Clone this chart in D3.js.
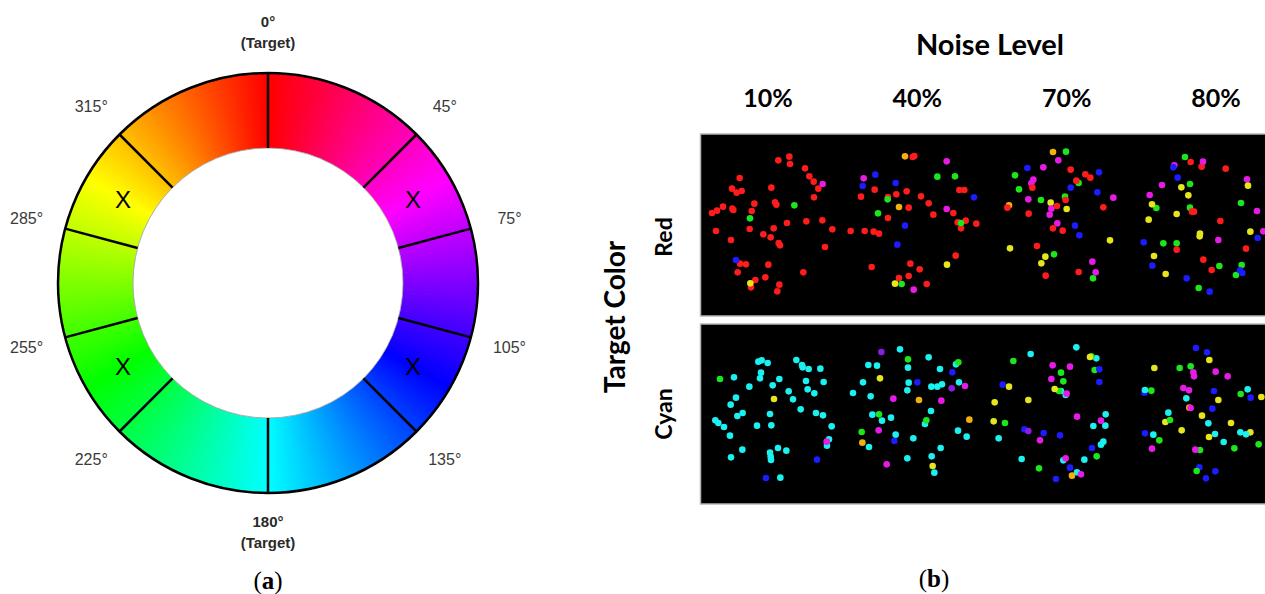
<!DOCTYPE html>
<html>
<head>
<meta charset="utf-8">
<script src="https://cdn.jsdelivr.net/npm/d3@7"></script>
<style>
  body { margin: 0; background: #fff; }
  svg { display: block; }
</style>
</head>
<body>
<svg width="1265" height="594"></svg>
<script>
// ---- panel (a) data ----
var ringBounds = [0, 45, 75, 105, 135, 180, 225, 255, 285, 315];
var sideAngles = [45, 75, 105, 135, 225, 255, 285, 315];
var sideLabels = ["45°", "75°", "105°", "135°", "225°", "255°", "285°", "315°"];
var targetAngles = [0, 180];
var targetLabels = ["0°", "180°"];
var distractorAngles = [60, 120, 240, 300];

// ---- panel (b) data ----
var noiseLevels = ["10%", "40%", "70%", "80%"];
var targetColors = ["Red", "Cyan"];

// dot positions in stimulus units, colour code last
var red10 = [[235,82,"r"],[268,71,"r"],[270,93,"r"],[315,106,"r"],[328,130,"r"],[341,146,"r"],[355,167,"r"],[342,193,"r"],
  [119,135,"r"],[96,167,"r"],[110,179,"r"],[125,174,"r"],[214,164,"r"],[163,212,"r"],[155,234,"r"],[225,208,"r"],[229,215,"r"],
  [69,221,"r"],[51,233,"r"],[36,240,"r"],[97,227,"r"],[100,231,"r"],[48,294,"r"],[93,321,"r"],[149,288,"r"],[190,304,"r"],
  [212,313,"r"],[221,286,"r"],[261,270,"r"],[319,265,"r"],[367,262,"r"],[397,289,"r"],[375,342,"r"],[236,330,"r"],[240,337,"r"],
  [205,395,"r"],[138,394,"r"],[120,392,"r"],[113,418,"r"],[166,441,"r"],[196,433,"r"],[153,463,"r"],[238,455,"r"],[232,475,"r"],
  [310,418,"r"],[283,217,"g"],[150,256,"g"],[368,153,"m"],[108,381,"b"],[151,451,"y"]];
var red40 = [[452,294,"r"],[494,294,"r"],[521,296,"r"],[537,302,"r"],[483,191,"r"],[524,170,"r"],[564,192,"r"],[589,184,"r"],
  [620,175,"r"],[663,190,"r"],[686,211,"r"],[626,224,"r"],[564,255,"r"],[700,245,"r"],[760,240,"r"],[773,268,"r"],[797,263,"r"],
  [783,286,"r"],[829,272,"r"],[778,171,"r"],[793,171,"r"],[638,72,"r"],[643,69,"r"],[515,402,"r"],[631,392,"r"],[659,409,"r"],
  [626,429,"r"],[597,435,"r"],[680,453,"r"],[767,368,"r"],
  [563,199,"g"],[534,241,"g"],[712,131,"g"],[765,130,"g"],[783,270,"g"],[605,453,"g"],
  [526,125,"b"],[488,159,"b"],[587,150,"b"],[822,193,"b"],[615,278,"b"],[592,335,"b"],
  [491,136,"m"],[740,85,"m"],[740,228,"m"],[641,470,"m"],
  [615,70,"o"],[597,222,"o"],[741,395,"y"],[585,452,"y"]];
var red70 = [[219,57,"o"],[212,209,"y"],[260,228,"y"],[90,346,"y"],[196,371,"y"],[184,391,"y"],[390,322,"y"],[87,217,"o"],
  [258,56,"g"],[105,127,"g"],[117,169,"g"],[183,201,"g"],[255,191,"g"],[296,150,"g"],[222,364,"g"],[339,436,"g"],
  [235,82,"m"],[190,103,"m"],[160,140,"m"],[154,151,"m"],[145,199,"m"],[214,227,"m"],[209,245,"m"],[232,271,"m"],[400,194,"m"],
  [337,386,"m"],[347,418,"m"],
  [272,110,"r"],[316,124,"r"],[331,134,"r"],[289,143,"r"],[157,164,"r"],[82,224,"r"],[146,242,"r"],[231,219,"r"],[257,201,"r"],
  [219,286,"r"],[248,293,"r"],[370,223,"r"],[171,339,"r"],[197,428,"r"],[296,417,"r"],
  [142,105,"b"],[357,118,"b"],[272,164,"b"],[352,178,"b"],[285,278,"b"],[298,307,"b"]];
var red80 = [[615,72,"g"],[630,153,"g"],[529,225,"g"],[630,224,"g"],[783,210,"g"],[550,331,"g"],[590,331,"g"],[718,399,"g"],
  [785,396,"g"],[768,426,"g"],[656,465,"g"],
  [632,87,"r"],[665,101,"r"],[737,107,"r"],[636,236,"r"],[642,236,"r"],[721,264,"r"],[590,350,"r"],[798,347,"r"],[670,380,"r"],[695,411,"r"],
  [583,97,"m"],[669,86,"m"],[546,156,"m"],[509,186,"m"],[801,139,"m"],[831,234,"m"],[850,295,"m"],[715,321,"m"],
  [580,103,"b"],[593,134,"b"],[491,328,"b"],[517,398,"b"],[620,436,"b"],[689,476,"b"],[833,315,"b"],[780,412,"b"],[787,420,"b"],
  [604,163,"y"],[625,187,"y"],[516,214,"y"],[590,243,"y"],[506,260,"y"],[660,302,"y"],[659,310,"y"],[522,369,"y"],[557,423,"y"],
  [804,158,"y"],[811,296,"y"]];
var cyan10 = [[175,140,"c"],[185,136,"c"],[203,144,"c"],[183,173,"c"],[180,190,"c"],[102,187,"c"],[148,215,"c"],[218,211,"c"],
  [238,192,"c"],[108,248,"c"],[92,269,"c"],[128,294,"c"],[112,303,"c"],[46,316,"c"],[55,324,"c"],[72,336,"c"],[90,362,"c"],
  [93,427,"c"],[127,404,"c"],[171,332,"c"],[210,297,"c"],[214,331,"c"],[210,413,"c"],[212,425,"c"],[213,435,"c"],[234,399,"c"],
  [259,407,"c"],[241,488,"c"],[266,229,"c"],[279,253,"c"],[302,283,"c"],[289,135,"c"],[306,150,"c"],[308,157,"c"],[326,162,"c"],
  [361,161,"c"],[318,198,"c"],[323,223,"c"],[343,235,"c"],[371,201,"c"],[348,294,"c"],[369,301,"c"],[395,334,"c"],[387,373,"c"],
  [381,392,"c"],[60,192,"g"],[222,252,"y"],[380,380,"m"],[351,434,"b"],[198,489,"b"]];
var cyan40 = [[600,103,"c"],[505,150,"c"],[531,152,"c"],[624,158,"c"],[686,127,"c"],[720,162,"c"],[768,148,"c"],[489,202,"c"],
  [459,234,"c"],[512,244,"c"],[626,203,"c"],[622,226,"c"],[694,215,"c"],[712,215,"c"],[726,208,"c"],[777,202,"c"],[517,299,"c"],
  [546,317,"c"],[573,308,"c"],[693,288,"c"],[675,327,"c"],[587,359,"c"],[640,370,"c"],[507,396,"c"],[622,430,"c"],[695,424,"c"],
  [722,399,"c"],[774,347,"c"],[800,365,"c"],[703,473,"c"],
  [624,133,"g"],[775,142,"g"],[537,298,"g"],[679,316,"g"],[485,351,"g"],
  [544,111,"p"],[652,202,"b"],[757,172,"b"],[755,220,"p"],[583,378,"b"],
  [795,213,"m"],[580,251,"m"],[724,257,"m"],[536,346,"m"],[560,448,"m"],
  [540,190,"y"],[657,255,"o"],[808,314,"o"],[487,383,"o"],[698,453,"y"]];
var cyan70 = [[289,97,"c"],[152,117,"c"],[349,130,"c"],[243,228,"c"],[257,240,"c"],[377,298,"c"],[340,333,"c"],[376,332,"c"],
  [56,370,"c"],[363,389,"c"],[370,380,"c"],[125,432,"c"],[250,436,"c"],[313,434,"c"],[291,472,"c"],
  [100,138,"g"],[334,124,"g"],[243,173,"g"],[250,199,"g"],[344,165,"g"],[237,228,"g"],[75,324,"g"],[350,424,"g"],[177,460,"g"],
  [330,126,"y"],[87,215,"y"],[145,255,"y"],[44,262,"y"],[224,222,"y"],[41,319,"y"],[276,482,"o"],
  [218,151,"m"],[270,155,"m"],[214,192,"m"],[260,236,"m"],[291,305,"m"],[363,317,"m"],[180,376,"m"],[257,430,"m"],[303,478,"m"],
  [358,163,"b"],[358,201,"b"],[68,209,"b"],[133,343,"b"],[145,348,"p"],[191,354,"b"],[240,361,"b"],[336,399,"b"],[270,458,"b"],[228,492,"b"]];
var cyan80 = [[648,99,"b"],[681,112,"b"],[493,233,"b"],[702,228,"b"],[697,281,"b"],[812,248,"b"],[495,355,"b"],[658,457,"b"],
  [706,469,"b"],[678,490,"b"],
  [688,135,"y"],[523,159,"y"],[715,255,"y"],[628,278,"o"],[666,302,"y"],[556,321,"y"],[605,346,"y"],[753,324,"y"],[687,366,"y"],
  [811,352,"y"],[844,246,"y"],
  [599,159,"g"],[632,154,"g"],[514,227,"g"],[570,315,"g"],[782,237,"g"],[538,376,"g"],[763,400,"g"],[660,405,"g"],[836,388,"g"],[650,468,"g"],
  [640,172,"m"],[642,184,"m"],[707,170,"m"],[743,184,"m"],[610,219,"m"],[627,226,"m"],[632,279,"m"],[516,401,"m"],[646,404,"m"],
  [495,225,"c"],[803,223,"c"],[619,250,"c"],[565,293,"c"],[685,325,"c"],[520,359,"c"],[705,357,"c"],[731,381,"c"],[781,352,"c"],[798,358,"c"]];

var cells = [
  [red10, red40, red70, red80],
  [cyan10, cyan40, cyan70, cyan80]
];

var dotColor = { r: "#ff1a1a", g: "#1ae61a", b: "#1a1aff", m: "#e61ae6", y: "#e6e61a", o: "#f2b010", c: "#1af0f0", p: "#8a1ae6" };

var svg = d3.select("svg");

// ================= (a) colour wheel =================
var cx = 268, cy = 283, rOut = 210, rIn = 135;
var wheel = svg.append("g").attr("transform", "translate(" + cx + "," + cy + ")");

var rad = d3.scaleLinear().domain([0, 360]).range([0, 2 * Math.PI]);
var hue = d3.scaleLinear().domain([0, 360]).range([360, 0]);

var arc = d3.arc().innerRadius(rIn).outerRadius(rOut);

wheel.selectAll("path.slice")
  .data(d3.range(0, 360, 0.5))
  .enter().append("path")
    .attr("class", "slice")
    .attr("d", function(d) { return arc({ startAngle: rad(d), endAngle: rad(d + 0.8) }); })
    .attr("fill", function(d) { return d3.hsl(hue(d + 0.25) % 360, 1, 0.5).formatHex(); });

// outer and inner edges
wheel.append("circle").attr("r", rOut).attr("fill", "none").attr("stroke", "#000").attr("stroke-width", 2.5);
wheel.append("circle").attr("r", rIn).attr("fill", "#fff").attr("stroke", "#999").attr("stroke-width", 0.8);

// segment borders
wheel.selectAll("line.bound")
  .data(ringBounds)
  .enter().append("line")
    .attr("class", "bound")
    .attr("x1", function(d) { return rIn * Math.sin(rad(d)); })
    .attr("y1", function(d) { return -rIn * Math.cos(rad(d)); })
    .attr("x2", function(d) { return rOut * Math.sin(rad(d)); })
    .attr("y2", function(d) { return -rOut * Math.cos(rad(d)); })
    .attr("stroke", "#000")
    .attr("stroke-width", 2.5);

// X marks on distractor segments
var rMid = (rIn + rOut) / 2 - 5;
wheel.selectAll("text.x")
  .data(distractorAngles)
  .enter().append("text")
    .attr("class", "x")
    .attr("x", function(d) { return rMid * Math.sin(rad(d)); })
    .attr("y", function(d) { return -rMid * Math.cos(rad(d)); })
    .attr("dy", "0.36em")
    .attr("text-anchor", "middle")
    .style("font", "24px 'Liberation Sans', Arial, sans-serif")
    .attr("fill", "#000")
    .text("X");

// side labels
var rLab = 250;
wheel.selectAll("text.lab")
  .data(sideAngles)
  .enter().append("text")
    .attr("class", "lab")
    .attr("x", function(d) { return rLab * Math.sin(rad(d)); })
    .attr("y", function(d) { return -rLab * Math.cos(rad(d)); })
    .attr("dy", "0.35em")
    .attr("text-anchor", "middle")
    .style("font", "16px 'Liberation Sans', Arial, sans-serif")
    .attr("fill", "#3a3a3a")
    .text(function(d, i) { return sideLabels[i]; });

// target labels top / bottom
var tg = wheel.selectAll("text.tgt")
  .data(targetAngles)
  .enter().append("text")
    .attr("class", "tgt")
    .attr("text-anchor", "middle")
    .attr("y", function(d) { return d == 0 ? -256 : 244; })
    .style("font", "bold 15px 'Liberation Sans', Arial, sans-serif")
    .attr("fill", "#2a2a2a");
tg.append("tspan").attr("x", 0).text(function(d, i) { return targetLabels[i]; });
tg.append("tspan").attr("x", 0).attr("dy", 21).text("(Target)");

svg.append("text")
  .attr("x", cx).attr("y", 589)
  .attr("text-anchor", "middle")
  .style("font", "25px 'Liberation Serif', 'DejaVu Serif', serif")
  .html("(<tspan font-weight='bold'>a</tspan>)");

// ================= (b) stimuli =================
var stripX0 = 700, stripX1 = 1265;
var rowTop = [134, 324], rowBot = [316, 504];
var labelMidY = [237, 414];
var colW = (stripX1 - stripX0) / 4;
// stimulus frame window per column and row
var colStart = [0, 423.75, 7.5, 431.25], colSpan = 423.75;
var rowDomain = [[3, 549], [27, 567]];

var fontB = "Lato, 'Open Sans', sans-serif";

svg.append("defs").append("filter")
  .attr("id", "soft")
  .append("feGaussianBlur").attr("stdDeviation", 0.55);

targetColors.forEach(function(tc, ri) {
  svg.append("rect")
    .attr("x", stripX0 + 0.5).attr("y", rowTop[ri])
    .attr("width", stripX1 - stripX0 + 5).attr("height", rowBot[ri] - rowTop[ri])
    .attr("fill", "#000")
    .attr("stroke", "#b5b5b5").attr("stroke-width", 1.5);

  var y = d3.scaleLinear().domain(rowDomain[ri]).range([rowTop[ri], rowBot[ri]]);

  noiseLevels.forEach(function(nl, ci) {
    var x = d3.scaleLinear()
      .domain([colStart[ci], colStart[ci] + colSpan])
      .range([stripX0 + ci * colW, stripX0 + (ci + 1) * colW]);
    svg.append("g")
      .attr("filter", "url(#soft)")
      .selectAll("circle")
      .data(cells[ri][ci])
      .enter().append("circle")
        .attr("cx", function(d) { return x(d[0]); })
        .attr("cy", function(d) { return y(d[1]); })
        .attr("r", 3.3)
        .attr("fill", function(d) { return dotColor[d[2]]; });
  });

  svg.append("text")
    .attr("transform", "translate(672," + labelMidY[ri] + ") rotate(-90)")
    .attr("text-anchor", "middle")
    .style("font", "bold 23px " + fontB)
    .attr("fill", "#000")
    .text(tc);
});

svg.append("text")
  .attr("transform", "translate(625,317) rotate(-90)")
  .attr("text-anchor", "middle")
  .style("font", "bold 28px " + fontB)
  .attr("fill", "#000")
  .text("Target Color");

svg.append("text")
  .attr("x", 990).attr("y", 55)
  .attr("text-anchor", "middle")
  .style("font", "bold 29px " + fontB)
  .attr("fill", "#000")
  .text("Noise Level");

var labX = d3.scalePoint().domain(noiseLevels).range([768, 1216]);
svg.selectAll("text.nl")
  .data(noiseLevels)
  .enter().append("text")
    .attr("class", "nl")
    .attr("x", function(d) { return labX(d); })
    .attr("y", 107)
    .attr("text-anchor", "middle")
    .style("font", "bold 25px " + fontB)
    .attr("fill", "#000")
    .text(function(d) { return d; });

svg.append("text")
  .attr("x", 934).attr("y", 587)
  .attr("text-anchor", "middle")
  .style("font", "25px 'Liberation Serif', 'DejaVu Serif', serif")
  .html("(<tspan font-weight='bold'>b</tspan>)");
</script>
</body>
</html>
